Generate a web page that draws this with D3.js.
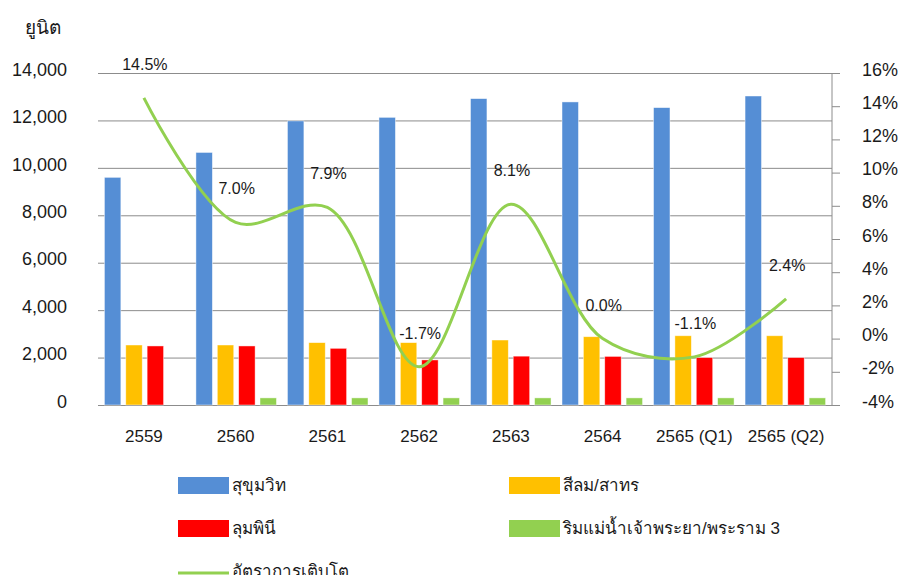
<!DOCTYPE html>
<html>
<head>
<meta charset="utf-8">
<script src="https://cdn.jsdelivr.net/npm/d3@7"></script>
<style>
  body { margin: 0; background: #fff; }
  text { font-family: "Liberation Sans", Arial, sans-serif; fill: #1a1a1a; font-weight: normal; }
</style>
</head>
<body>
<div id="chart-area"></div>
<script>
var categories = ["2559", "2560", "2561", "2562", "2563", "2564", "2565 (Q1)", "2565 (Q2)"];
var seriesNames = ["สุขุมวิท", "สีลม/สาทร", "ลุมพินี", "ริมแม่น้ำเจ้าพระยา/พระราม 3"];
var sukhumvit = [9600, 10650, 11980, 12130, 12920, 12780, 12540, 13030];
var silom = [2530, 2530, 2630, 2630, 2740, 2880, 2920, 2920];
var lumpini = [2490, 2490, 2390, 1900, 2060, 2050, 2000, 2000];
var riverside = [0, 300, 300, 300, 300, 300, 300, 300];
var growth = [14.5, 7.0, 7.9, -1.7, 8.1, 0.0, -1.1, 2.4];
var growthName = "อัตราการเติบโต";
var leftTicks = [0, 2000, 4000, 6000, 8000, 10000, 12000, 14000];
var rightTicks = [-4, -2, 0, 2, 4, 6, 8, 10, 12, 14, 16];
var colors = ["#558ED5", "#FFC000", "#FF0000", "#92D050"];

var width = 901, height = 575;
var margin = {top: 73, right: 69, bottom: 170, left: 98};
var innerW = width - margin.left - margin.right;
var innerH = height - margin.top - margin.bottom;

var svg = d3.select("#chart-area").append("svg")
	.attr("width", width)
	.attr("height", height);

var group = svg.append("g")
	.attr("transform", "translate(" + margin.left + "," + margin.top + ")");

var x0 = d3.scaleBand()
	.domain(categories)
	.range([0, innerW])
	.paddingInner(0.12)
	.paddingOuter(0.07);
var x1 = d3.scaleBand()
	.domain(d3.range(4))
	.range([0, x0.bandwidth()])
	.paddingInner(0.23);
var xc = d3.scaleBand().domain(categories).range([0, innerW]);
var y = d3.scaleLinear().domain([0, 14000]).range([innerH, 0]);
var y2 = d3.scaleLinear().domain([-4, 16]).range([innerH, 0]);

// gridlines
group.append("g")
	.attr("class", "grid")
	.call(d3.axisLeft(y).tickValues(leftTicks).tickSize(-innerW).tickFormat(""))
	.call(g => g.select(".domain").remove())
	.selectAll("line")
	.attr("stroke", "#8c8c8c");

// left tick labels
var leftAxis = d3.axisLeft(y).tickValues(leftTicks).tickSize(0).tickPadding(31)
	.tickFormat(d3.format(","));
group.append("g")
	.attr("class", "left axis")
	.call(leftAxis)
	.call(g => g.select(".domain").remove())
	.selectAll("text")
	.attr("font-size", "18px")
	.attr("dy", "0.12em")
	.attr("fill", "#262626");

// right axis
var rightAxis = d3.axisRight(y2).tickValues(rightTicks).tickSize(8).tickPadding(22)
	.tickFormat(d => d + "%");
group.append("g")
	.attr("class", "right axis")
	.attr("transform", "translate(" + innerW + ",0)")
	.call(rightAxis)
	.call(g => g.select(".domain").attr("stroke", "#8c8c8c").attr("d", "M0,0V" + innerH))
	.call(g => g.selectAll("line").attr("stroke", "#8c8c8c"))
	.selectAll("text")
	.attr("font-size", "18px")
	.attr("dy", "0.12em")
	.attr("fill", "#262626");

// bottom axis labels
var bottomAxis = d3.axisBottom(xc).tickSize(0).tickPadding(25);
group.append("g")
	.attr("class", "bottom axis")
	.attr("transform", "translate(0," + innerH + ")")
	.call(bottomAxis)
	.call(g => g.select(".domain").attr("stroke", "#8c8c8c"))
	.selectAll("text")
	.attr("font-size", "17px")
	.attr("fill", "#262626");

// bars
var table = categories.map((c, i) => ({
	cat: c,
	vals: [sukhumvit[i], silom[i], lumpini[i], riverside[i]]
}));
var groups = group.selectAll(".cat").data(table).enter()
	.append("g")
	.attr("class", "cat")
	.attr("transform", d => "translate(" + x0(d.cat) + ",0)");
groups.selectAll("rect")
	.data(d => d.vals.map((v, k) => ({k: k, v: v})).filter(e => e.v > 0))
	.enter().append("rect")
	.attr("x", d => x1(d.k))
	.attr("y", d => y(d.v))
	.attr("width", x1.bandwidth())
	.attr("height", d => innerH - y(d.v))
	.attr("fill", d => colors[d.k])
	.attr("stroke", "#ffffff")
	.attr("stroke-opacity", 0.6)
	.attr("stroke-width", 0.75);

// growth line
var line = d3.line()
	.x((d, i) => xc(categories[i]) + xc.bandwidth() / 2)
	.y(d => y2(d))
	.curve(d3.curveCatmullRom);
group.append("path")
	.datum(growth)
	.attr("d", line)
	.attr("fill", "none")
	.attr("stroke", "#92D050")
	.attr("stroke-width", 3);

group.selectAll(".glabel").data(growth).enter()
	.append("text")
	.attr("class", "glabel")
	.attr("x", (d, i) => xc(categories[i]) + xc.bandwidth() / 2 + 1)
	.attr("y", d => y2(d) - 28)
	.attr("text-anchor", "middle")
	.attr("font-size", "16px")
	.text(d => d.toFixed(1) + "%");

// unit title
svg.append("text")
	.attr("x", 25)
	.attr("y", 34)
	.attr("font-size", "19px")
	.attr("fill", "#262626")
	.text("ยูนิต");

// legend
var legendPos = [[178, 477], [509, 477], [178, 520], [509, 520]];
seriesNames.forEach((name, k) => {
	var lg = svg.append("g").attr("transform", "translate(" + legendPos[k][0] + "," + legendPos[k][1] + ")");
	lg.append("rect").attr("width", 51).attr("height", 17).attr("fill", colors[k]);
	lg.append("text").attr("x", 54).attr("y", 14).attr("font-size", "17px").text(name);
});
var ll = svg.append("g").attr("transform", "translate(178,563)");
ll.append("line").attr("x1", 0).attr("x2", 51).attr("y1", 10).attr("y2", 10)
	.attr("stroke", "#92D050").attr("stroke-width", 3);
ll.append("text").attr("x", 54).attr("y", 14).attr("font-size", "17px").text(growthName);
</script>
</body>
</html>
